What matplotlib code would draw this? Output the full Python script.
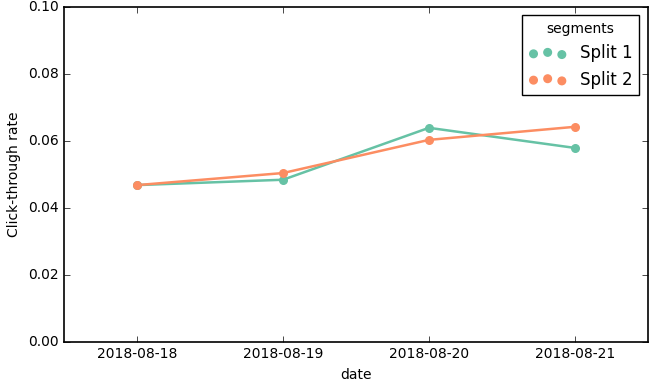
import matplotlib
matplotlib.use("Agg")
import matplotlib.pyplot as plt

plt.style.use("classic")

dates = ["2018-08-18", "2018-08-19", "2018-08-20", "2018-08-21"]
split_1 = [0.0468, 0.0484, 0.0639, 0.0579]
split_2 = [0.0468, 0.0504, 0.0603, 0.0642]
series = {"Split 1": split_1, "Split 2": split_2}
colors = {"Split 1": "#66c2a5", "Split 2": "#fc8d62"}

fig = plt.figure(figsize=(6.55, 3.82), dpi=100, facecolor="white")
ax = fig.add_axes([0.098, 0.105, 0.891, 0.877])

x = list(range(len(dates)))
for name, vals in series.items():
    ax.plot(x, vals, color=colors[name], lw=1.8, zorder=2)
    ax.scatter(x, vals, s=30, color=colors[name], edgecolor=colors[name],
               label=name, zorder=3)

ax.set_xlim(-0.5, len(dates) - 0.5)
ax.set_ylim(0, 0.10)
ax.set_xticks(x)
ax.set_xticklabels(dates)
ax.set_yticks([0.0, 0.02, 0.04, 0.06, 0.08, 0.10])
ax.set_yticklabels(["0.00", "0.02", "0.04", "0.06", "0.08", "0.10"])
ax.tick_params(labelsize=10)
for s in ax.spines.values():
    s.set_linewidth(1.2)
ax.set_xlabel("date", fontsize=10)
ax.set_ylabel("Click-through rate", fontsize=10)

leg = ax.legend(title="segments", loc="upper right", scatterpoints=3,
                fontsize=12, frameon=True, fancybox=False, handlelength=2.3)
leg.get_title().set_fontsize(10)

fig.savefig("out.png", dpi=100, facecolor="white")
